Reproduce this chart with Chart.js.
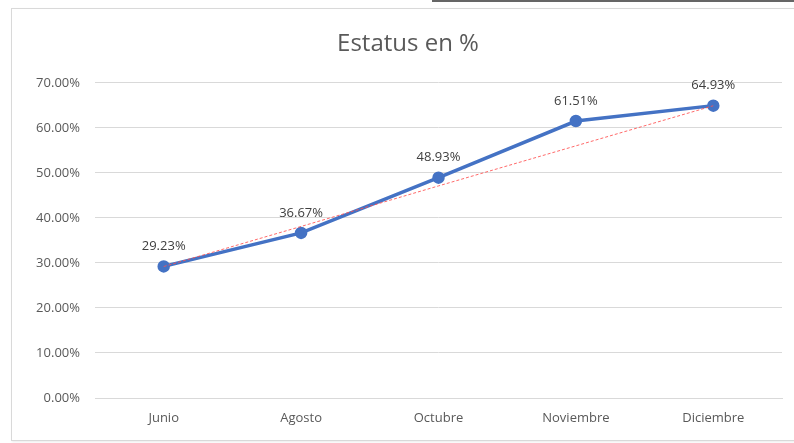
<!DOCTYPE html>
<html>
<head>
<meta charset="utf-8">
<script src="https://cdn.jsdelivr.net/npm/chart.js@4/dist/chart.umd.min.js"></script>
<style>
    html, body { margin: 0; padding: 0; background: #fff; }
    #wrap { position: relative; width: 794px; height: 443px; overflow: hidden; }
    #topline { position: absolute; left: 432px; top: 0; width: 362px; height: 2px; background: #666; }
    #box { position: absolute; left: 11px; top: 8px; width: 800px; height: 431px; border: 1px solid #d9d9d9; box-shadow: 1px 1px 2px rgba(0,0,0,0.08); }
    #chart { position: absolute; left: 0; top: 0; }
</style>
</head>
<body>
<div id="wrap">
    <div id="topline"></div>
    <div id="box"></div>
    <canvas id="chart" width="794" height="443"></canvas>
</div>
<script>
// datos
const meses = ["Junio", "Agosto", "Octubre", "Noviembre", "Diciembre"];
const estatus = [29.23, 36.67, 48.93, 61.51, 64.93];
const tendencia = [29.2, 38.1, 47.1, 56.0, 64.9];
const yTicks = [0, 10, 20, 30, 40, 50, 60, 70];

const FONT = '"Open Sans", "Liberation Sans", sans-serif';

// texto un poco más espaciado, como en la imagen
const espaciado = {
    id: 'espaciado',
    beforeInit(chart) { chart.ctx.letterSpacing = '0.8px'; }
};

// etiquetas de datos encima de cada punto
const etiquetas = {
    id: 'etiquetas',
    afterDatasetsDraw(chart) {
        const ctx = chart.ctx;
        const meta = chart.getDatasetMeta(0);
        ctx.save();
        ctx.font = '13px ' + FONT;
        ctx.fillStyle = '#404040';
        ctx.textAlign = 'center';
        ctx.textBaseline = 'middle';
        meta.data.forEach((pt, i) => {
            ctx.fillText(estatus[i].toFixed(2) + '%', pt.x, pt.y - 20);
        });
        ctx.restore();
    }
};

new Chart(document.getElementById('chart'), {
    type: 'line',
    data: {
        labels: meses,
        datasets: [
            {
                data: estatus,
                borderColor: '#4472C4',
                backgroundColor: '#4472C4',
                borderWidth: 3.5,
                pointRadius: 4.5,
                pointHoverRadius: 4.5,
                tension: 0,
                order: 2
            },
            {
                data: tendencia,
                borderColor: 'rgba(255,80,80,0.85)',
                borderWidth: 1,
                borderDash: [3, 2],
                pointRadius: 0,
                tension: 0,
                order: 1
            }
        ]
    },
    options: {
        responsive: false,
        animation: false,
        layout: { padding: { left: 34, right: 12, top: 0, bottom: 5 } },
        plugins: {
            legend: { display: false },
            tooltip: { enabled: false },
            title: {
                display: true,
                text: 'Estatus en %',
                color: '#595959',
                font: { family: FONT, size: 24, weight: 'normal' },
                padding: { top: 30, bottom: 24 }
            }
        },
        scales: {
            x: {
                offset: true,
                grid: { display: false, drawTicks: false },
                border: { display: true, color: '#d9d9d9' },
                ticks: { color: '#595959', font: { family: FONT, size: 13 }, padding: 12 },
                afterFit(s) { s.height = 40; }
            },
            y: {
                min: 0,
                max: 70,
                afterBuildTicks(s) { s.ticks = yTicks.map(v => ({ value: v })); },
                grid: { color: '#d9d9d9', drawTicks: false },
                border: { display: false },
                ticks: {
                    color: '#595959',
                    font: { family: FONT, size: 13 },
                    padding: 15,
                    callback: v => v.toFixed(2) + '%'
                },
                afterFit(s) { s.width = 61; }
            }
        }
    },
    plugins: [espaciado, etiquetas]
});
</script>
</body>
</html>
